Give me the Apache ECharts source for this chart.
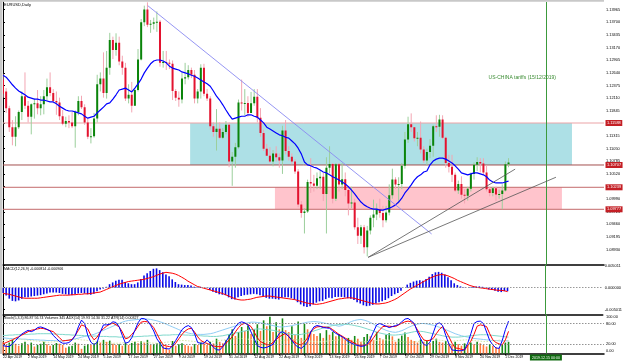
<!DOCTYPE html>
<html>
<head>
<meta charset="utf-8">
<script src="https://cdn.jsdelivr.net/npm/echarts@6/dist/echarts.min.js"></script>
<style>
  html, body { margin: 0; padding: 0; background: #fff; }
  #chart { width: 625px; height: 362px; }
</style>
</head>
<body>
<div id="chart"></div>
<script>
// EURUSD daily, 22 Apr 2019 .. 3 Dec 2019 (bar index 0..161)
const dateLabels = ['22 Apr 2019', '2 May 2019', '14 May 2019', '24 May 2019', '5 Jun 2019', '17 Jun 2019',
  '27 Jun 2019', '9 Jul 2019', '19 Jul 2019', '31 Jul 2019', '12 Aug 2019', '22 Aug 2019', '3 Sep 2019',
  '13 Sep 2019', '25 Sep 2019', '7 Oct 2019', '17 Oct 2019', '29 Oct 2019', '8 Nov 2019', '20 Nov 2019', '2 Dec 2019']
const labelStep = 8

const priceTicks = [1.13965, 1.13700, 1.13435, 1.13170, 1.12905, 1.12640, 1.12375, 1.12110, 1.11845, 1.11580,
  1.11315, 1.11050, 1.10785, 1.10520, 1.10255, 1.09990, 1.09725, 1.09460, 1.09195, 1.08930]
const macdTicks = [0.005011, 0, -0.005011]
const stochTicks = [100, 80, 20, 0]

const opens = [1.1250,1.1225,1.1190,1.1150,1.1130,1.1150,1.1182,1.1215,1.1195,1.1172,
  1.1198,1.1200,1.1190,1.1198,1.1215,1.1234,1.1222,1.1205,1.1202,1.1173,
  1.1157,1.1163,1.1160,1.1152,1.1182,1.1205,1.1192,1.1160,1.1130,1.1131,
  1.1168,1.1240,1.1252,1.1222,1.1275,1.1333,1.1312,1.1327,1.1288,1.1275,
  1.1210,1.1218,1.1195,1.1228,1.1292,1.1370,1.1397,1.1365,1.1367,1.1370,
  1.1371,1.1285,1.1287,1.1285,1.1283,1.1226,1.1212,1.1208,1.1252,1.1255,
  1.1270,1.1260,1.1210,1.1225,1.1275,1.1220,1.1210,1.1152,1.1140,1.1147,
  1.1128,1.1140,1.1155,1.1078,1.1088,1.1108,1.1202,1.1200,1.1201,1.1180,
  1.1200,1.1214,1.1170,1.1138,1.1105,1.1090,1.1078,1.1095,1.1087,1.1080,
  1.1143,1.1100,1.1088,1.1078,1.1057,1.0988,1.0970,1.0973,1.1035,1.1032,
  1.1027,1.1043,1.1046,1.1010,1.1065,1.1073,1.1000,1.1072,1.1030,1.1041,
  1.1018,1.0990,1.0992,1.0940,1.0922,1.0940,1.0898,1.0933,1.0960,1.0967,
  1.0978,1.0970,1.0955,1.0971,1.1007,1.1040,1.1030,1.1031,1.1069,1.1124,
  1.1156,1.1150,1.1127,1.1128,1.1103,1.1080,1.1098,1.1111,1.1152,1.1151,
  1.1166,1.1128,1.1075,1.1067,1.1050,1.1017,1.1031,1.1008,1.1006,1.1021,
  1.1052,1.1071,1.1077,1.1074,1.1055,1.1020,1.1012,1.1022,1.1009,1.1010,
  1.1017,1.1072]
const closes = [1.1220,1.1190,1.1150,1.1130,1.1150,1.1182,1.1215,1.1195,1.1172,1.1198,
  1.1200,1.1190,1.1198,1.1215,1.1234,1.1222,1.1205,1.1202,1.1173,1.1157,
  1.1163,1.1160,1.1152,1.1182,1.1205,1.1192,1.1160,1.1130,1.1131,1.1168,
  1.1240,1.1252,1.1222,1.1275,1.1333,1.1312,1.1327,1.1288,1.1275,1.1210,
  1.1218,1.1195,1.1228,1.1292,1.1370,1.1397,1.1365,1.1367,1.1370,1.1371,
  1.1285,1.1287,1.1285,1.1283,1.1226,1.1212,1.1208,1.1252,1.1255,1.1270,
  1.1260,1.1210,1.1225,1.1275,1.1220,1.1210,1.1152,1.1140,1.1147,1.1128,
  1.1140,1.1155,1.1078,1.1088,1.1108,1.1202,1.1200,1.1201,1.1180,1.1200,
  1.1214,1.1170,1.1138,1.1105,1.1090,1.1078,1.1095,1.1087,1.1080,1.1143,
  1.1100,1.1088,1.1078,1.1057,1.0988,1.0970,1.0973,1.1035,1.1032,1.1027,
  1.1043,1.1046,1.1010,1.1065,1.1073,1.1000,1.1072,1.1030,1.1041,1.1018,
  1.0990,1.0992,1.0940,1.0922,1.0940,1.0898,1.0933,1.0960,1.0967,1.0978,
  1.0970,1.0955,1.0971,1.1007,1.1040,1.1030,1.1031,1.1069,1.1124,1.1156,
  1.1150,1.1127,1.1128,1.1103,1.1080,1.1098,1.1111,1.1152,1.1151,1.1166,
  1.1128,1.1075,1.1067,1.1050,1.1017,1.1031,1.1008,1.1006,1.1021,1.1052,
  1.1071,1.1077,1.1074,1.1055,1.1020,1.1012,1.1022,1.1009,1.1010,1.1017,
  1.1072,1.1076]
const lows = [1.1212,1.1180,1.1140,1.1112,1.1110,1.1146,1.1165,1.1188,1.1160,1.1135,
  1.1168,1.1177,1.1175,1.1177,1.1205,1.1215,1.1200,1.1176,1.1165,1.1154,
  1.1150,1.1148,1.1148,1.1107,1.1175,1.1188,1.1155,1.1125,1.1116,1.1128,
  1.1160,1.1225,1.1212,1.1210,1.1260,1.1293,1.1300,1.1280,1.1260,1.1205,
  1.1200,1.1181,1.1195,1.1225,1.1290,1.1362,1.1360,1.1348,1.1355,1.1350,
  1.1277,1.1275,1.1270,1.1272,1.1207,1.1205,1.1193,1.1200,1.1240,1.1250,
  1.1253,1.1200,1.1200,1.1210,1.1215,1.1205,1.1145,1.1130,1.1101,1.1125,
  1.1125,1.1135,1.1066,1.1027,1.1065,1.1105,1.1185,1.1175,1.1172,1.1180,
  1.1195,1.1160,1.1130,1.1100,1.1090,1.1075,1.1068,1.1078,1.1065,1.1052,
  1.1093,1.1080,1.1072,1.1052,1.0982,1.0960,1.0927,1.0970,1.1012,1.1015,
  1.1020,1.1020,1.0995,1.0927,1.1053,1.0990,1.0995,1.1015,1.1020,1.1005,
  1.0965,1.0980,1.0935,1.0905,1.0905,1.0885,1.0879,1.0925,1.0940,1.0955,
  1.0960,1.0940,1.0950,1.0965,1.1000,1.1020,1.0990,1.1020,1.1063,1.1117,
  1.1140,1.1120,1.1110,1.1095,1.1075,1.1070,1.1085,1.1088,1.1140,1.1130,
  1.1125,1.1065,1.1055,1.1035,1.1014,1.1010,1.1000,1.0990,1.0996,1.1015,
  1.1040,1.1058,1.1055,1.1050,1.1015,1.1005,1.1005,1.0995,1.1000,1.0978,
  1.1015,1.1066]
const highs = [1.1262,1.1232,1.1195,1.1165,1.1173,1.1185,1.1225,1.1265,1.1205,1.1200,
  1.1210,1.1228,1.1215,1.1228,1.1252,1.1265,1.1230,1.1225,1.1212,1.1186,
  1.1172,1.1175,1.1182,1.1185,1.1215,1.1216,1.1198,1.1168,1.1148,1.1180,
  1.1260,1.1265,1.1307,1.1310,1.1348,1.1340,1.1347,1.1340,1.1300,1.1285,
  1.1240,1.1245,1.1230,1.1314,1.1377,1.1405,1.1412,1.1375,1.1380,1.1393,
  1.1375,1.1310,1.1310,1.1292,1.1290,1.1230,1.1225,1.1265,1.1285,1.1280,
  1.1275,1.1270,1.1230,1.1282,1.1283,1.1230,1.1215,1.1160,1.1188,1.1160,
  1.1148,1.1163,1.1160,1.1098,1.1117,1.1208,1.1250,1.1230,1.1215,1.1224,
  1.1230,1.1230,1.1190,1.1145,1.1115,1.1108,1.1102,1.1110,1.1095,1.1153,
  1.1165,1.1110,1.1095,1.1083,1.1062,1.0995,1.0980,1.1040,1.1085,1.1050,
  1.1055,1.1060,1.1055,1.1087,1.1110,1.1075,1.1075,1.1075,1.1075,1.1055,
  1.1025,1.1025,1.1000,1.0960,1.0945,1.0945,1.0943,1.0965,1.0998,1.0990,
  1.1000,1.0985,1.0985,1.1030,1.1063,1.1045,1.1045,1.1075,1.1140,1.1172,
  1.1179,1.1150,1.1140,1.1162,1.1110,1.1105,1.1125,1.1155,1.1175,1.1176,
  1.1175,1.1130,1.1092,1.1092,1.1055,1.1038,1.1047,1.1020,1.1025,1.1055,
  1.1076,1.1087,1.1085,1.1085,1.1070,1.1025,1.1025,1.1025,1.1019,1.1030,
  1.1078,1.1085]

// moving average (blue)
const movingAvg = [1.1259,1.1255,1.1247,1.1239,1.1232,1.1226,1.1222,1.1218,1.1213,1.1211,
  1.1209,1.1209,1.1207,1.1207,1.1205,1.1203,1.1203,1.1199,1.1194,1.1190,
  1.1186,1.1184,1.1184,1.1182,1.1180,1.1178,1.1173,1.1169,1.1171,1.1173,
  1.1180,1.1186,1.1192,1.1199,1.1201,1.1209,1.1218,1.1228,1.1230,1.1232,
  1.1228,1.1224,1.1232,1.1241,1.1251,1.1264,1.1274,1.1283,1.1289,1.1291,
  1.1291,1.1289,1.1285,1.1278,1.1274,1.1272,1.1270,1.1266,1.1264,1.1262,
  1.1259,1.1257,1.1253,1.1249,1.1245,1.1241,1.1236,1.1226,1.1215,1.1207,
  1.1197,1.1186,1.1176,1.1167,1.1169,1.1171,1.1173,1.1173,1.1176,1.1176,
  1.1173,1.1171,1.1165,1.1159,1.1150,1.1146,1.1142,1.1138,1.1134,1.1132,
  1.1129,1.1127,1.1121,1.1115,1.1106,1.1094,1.1077,1.1071,1.1069,1.1066,
  1.1064,1.1060,1.1056,1.1054,1.1050,1.1046,1.1043,1.1039,1.1035,1.1031,
  1.1025,1.1018,1.1010,1.1001,1.0993,1.0987,1.0983,1.0980,1.0978,1.0978,
  1.0976,1.0976,1.0978,1.0980,1.0983,1.0987,1.0993,1.1001,1.1012,1.1020,
  1.1029,1.1039,1.1046,1.1050,1.1056,1.1058,1.1071,1.1079,1.1083,1.1085,
  1.1085,1.1083,1.1079,1.1075,1.1069,1.1062,1.1054,1.1052,1.1050,1.1052,
  1.1054,1.1054,1.1052,1.1050,1.1046,1.1039,1.1035,1.1033,1.1033,1.1033,
  1.1035,1.1037]

// MACD(12,26,9), in units of 0.0001
const macdUnit = 0.0001
const macdMain = [-12,-18,-25,-30,-31,-29,-25,-22,-22,-20,-19,-18,-17,-15,-13,-11,-11,-11,-12,-14,
  -15,-16,-17,-15,-13,-12,-13,-15,-16,-14,-8,-4,-2,2,8,12,16,18,18,13,
  10,8,8,12,20,28,33,38,43,44,40,35,30,26,19,13,8,7,6,6,
  5,2,1,2,0,-1,-5,-9,-12,-15,-16,-17,-22,-26,-27,-22,-19,-17,-16,-15,
  -14,-15,-17,-20,-23,-25,-25,-26,-27,-23,-22,-22,-24,-27,-33,-38,-42,-44,-42,-38,
  -34,-31,-30,-26,-23,-24,-21,-21,-21,-22,-24,-25,-28,-33,-36,-40,-42,-41,-39,-36,
  -33,-31,-28,-24,-19,-15,-12,-7,0,7,11,14,16,17,16,20,25,31,35,36,
  34,30,24,17,10,6,3,1,0,1,2,3,3,2,-1,-4,-5,-7,-9,-10,
  -8,-8]
const macdSignal = [-13,-14,-15,-17,-19,-21,-23,-24,-24,-24,-24,-24,-23,-22,-21,-20,-19,-18,-17,-17,
  -17,-17,-16,-16,-15,-15,-14,-14,-13,-12,-11,-10,-7,-4,-1,2,5,8,10,12,
  14,15,16,17,18,19,21,23,25,28,31,33,35,34,33,31,28,24,20,15,
  11,7,3,1,-1,-3,-5,-7,-9,-11,-13,-16,-19,-22,-25,-27,-28,-28,-27,-26,
  -24,-22,-21,-20,-19,-19,-20,-21,-22,-23,-24,-25,-26,-27,-29,-31,-33,-35,-36,-37,
  -38,-37,-36,-34,-32,-30,-28,-26,-25,-24,-23,-23,-24,-26,-28,-30,-32,-34,-36,-37,
  -37,-36,-35,-33,-30,-27,-23,-18,-13,-8,-3,1,5,9,13,17,21,24,27,29,
  30,29,27,24,21,17,14,11,8,5,3,1,0,-1,-2,-3,-4,-5,-6,-6,
  -7,-9]

// Stochastic(5,3,3)
const stochK = [15,13,12,20,30,40,49,55,60,56,60,68,70,67,63,58,45,36,27,22,
  22,24,32,44,70,90,80,45,25,17,25,55,76,76,78,85,83,70,45,22,
  25,38,60,82,95,94,89,75,58,35,22,8,6,5,15,30,46,62,70,74,
  68,50,24,22,22,32,22,10,3,2,12,27,42,56,70,81,85,82,76,55,
  35,15,10,8,10,14,19,35,51,56,50,42,30,18,10,7,15,27,55,70,
  74,72,68,67,66,58,51,46,41,34,27,22,18,15,13,14,20,35,56,76,
  80,76,72,68,71,74,77,85,93,95,88,80,55,35,18,16,25,52,78,82,
  74,45,20,2,1,0,0,3,22,50,80,86,87,80,55,30,17,8,7,30,
  62,87]
const stochD = [20,24,28,32,37,41,46,51,56,60,62,64,66,65,62,59,56,47,38,29,
  30,31,33,45,60,76,72,64,45,32,40,56,65,72,78,81,76,70,55,35,
  38,48,58,72,84,86,85,78,68,50,32,17,14,12,12,22,35,48,58,64,
  66,55,41,30,25,21,18,14,12,12,12,22,31,41,55,68,77,81,77,71,
  55,38,27,22,18,17,25,33,41,46,51,42,32,25,19,17,25,38,55,65,
  70,71,70,69,68,62,55,48,43,37,32,27,22,17,16,17,17,25,38,51,
  62,71,72,72,71,71,76,81,85,87,85,77,61,45,32,29,31,36,50,63,
  71,58,41,22,8,7,4,2,15,28,48,72,76,74,71,50,32,24,20,17,
  32,57]

// tick volumes
const volumes = [30,22,28,35,25,20,26,30,22,28,18,22,25,30,24,20,22,27,25,22,
  15,18,20,28,25,12,20,24,22,26,32,28,35,30,33,25,22,24,20,28,
  22,27,30,26,32,28,35,22,24,26,30,22,18,10,32,20,24,26,22,20,
  18,24,22,28,26,22,30,26,38,30,26,34,50,62,45,55,68,58,72,50,
  62,75,58,85,70,94,55,80,62,90,60,55,70,48,82,40,76,62,58,50,
  45,52,40,60,48,55,44,50,42,36,40,35,45,38,30,42,50,44,35,55,
  40,36,48,52,44,30,38,46,54,42,35,32,28,36,30,34,26,32,38,30,
  28,32,26,22,30,24,20,26,22,28,24,30,26,22,18,24,20,16,14,22,
  28,30]

// ADX(14): main line and the two directional lines
const adxMain = [38,37,36,36,35,35,34,34,33,33,32,32,31,31,30,30,30,29,29,29,
  30,31,33,35,37,40,42,44,46,48,52,56,60,64,68,72,76,80,84,87,
  89,90,91,92,93,94,93,92,90,88,85,82,78,74,70,66,62,58,55,52,
  50,49,48,48,48,49,50,52,55,58,61,64,67,70,73,76,78,80,82,84,
  84,83,82,80,78,76,74,72,70,70,71,72,74,76,78,80,82,84,85,86,
  85,84,82,80,78,76,74,72,74,78,82,86,89,91,92,90,87,83,78,73,
  68,64,60,57,55,54,56,59,63,68,72,76,78,80,80,79,77,75,72,69,
  66,62,58,54,50,47,44,42,40,38,36,35,34,33,32,31,30,30,29,29,
  29,29]
const adxPlus = [45,45,46,46,47,47,48,48,48,49,49,50,50,50,50,50,49,49,48,48,
  47,47,46,46,45,45,44,44,43,43,43,42,42,42,41,41,41,40,40,40,
  40,41,41,42,42,43,43,44,44,45,45,46,46,46,47,47,47,47,46,46,
  45,45,44,44,43,43,42,42,42,43,44,46,48,50,52,54,56,58,60,62,
  63,64,64,63,62,61,60,58,56,54,52,50,48,47,47,48,50,52,55,58,
  61,64,67,70,72,74,76,77,78,78,77,76,74,72,70,67,64,61,58,55,
  52,50,48,47,46,46,47,48,50,52,54,56,57,57,56,54,52,50,48,46,
  44,42,41,40,40,40,41,42,43,44,45,46,47,47,47,46,45,44,43,42,
  41,40]
const adxMinus = [30,31,32,33,34,34,33,32,31,30,29,28,27,26,25,25,26,27,28,29,
  30,31,32,33,33,32,31,30,29,28,27,26,25,24,23,22,22,22,23,24,
  25,26,27,27,26,25,24,23,22,22,23,24,25,26,27,28,29,30,30,29,
  28,27,26,25,25,26,27,28,29,30,31,32,33,34,35,36,36,35,34,33,
  32,31,30,29,28,27,27,28,29,30,31,32,33,33,32,31,30,29,28,27,
  26,26,27,28,29,30,31,32,32,31,30,29,28,27,26,26,27,28,29,30,
  31,32,32,31,30,29,28,27,26,25,25,26,27,28,29,30,31,32,32,31,
  30,29,28,28,29,30,31,32,32,31,30,29,28,27,27,28,29,30,31,31,
  30,29]

// drawn objects: horizontal levels, zones, trend lines, event line
const levelPrices = [1.11588, 1.10707, 1.10239, 1.09777]
const cyanZone = [[59.6, 1.11588], [181.2, 1.10707]]
const pinkZone = [[86.6, 1.10239], [178.0, 1.09777]]
const trendDown = [[46.1, 1.1405], [136.5, 1.0926]]
const trendUpA = [[116.3, 1.0877], [163.1, 1.1062]]
const trendUpB = [[116.3, 1.0877], [176.1, 1.1045]]
const eventBar = 172.9
const eventLabel = '2019.12.15 00:00'
const eventText = 'US-CHINA tariffs (15/12/2019)'

const levelColors = ['#eba3a6', '#a4504f', '#c46a6b', '#c46a6b']
const FONT = 'Liberation Sans, Arial, sans-serif'
const xMax = 191.4

const candleData = closes.map((c, i) => [i, opens[i], c, lows[i], highs[i]])
const idx = (arr, scale) => arr.map((v, i) => [i, scale ? v * scale : v])

function renderCandle(params, api) {
  const i = api.value(0)
  const o = api.value(1)
  const c = api.value(2)
  const pO = api.coord([i, o])
  const pC = api.coord([i, c])
  const pL = api.coord([i, api.value(3)])
  const pH = api.coord([i, api.value(4)])
  const x = pO[0]
  const up = c > o
  const flat = Math.abs(c - o) < 0.00006
  const top = Math.min(pO[1], pC[1])
  const h = Math.max(Math.abs(pO[1] - pC[1]), 1)
  return {
    type: 'group',
    children: [
      { type: 'line', shape: { x1: x, y1: pH[1], x2: x, y2: pL[1] },
        style: { stroke: up ? '#9ccf9c' : '#f3a6b3', lineWidth: 1 } },
      { type: 'rect', shape: { x: x - 1, y: top, width: 2, height: h },
        style: { fill: flat ? '#222' : (up ? '#0a840a' : '#e3132f') } },
    ],
  }
}

function xAxisFor(gridIndex, showLabels) {
  return {
    type: 'value', gridIndex, min: 0, max: xMax,
    splitLine: { show: false },
    axisLine: { show: true, onZero: false, lineStyle: { color: '#000', width: 1.5 } },
    axisTick: { show: showLabels, length: 2, lineStyle: { color: '#000' },
      customValues: dateLabels.map((d, k) => k * labelStep) },
    axisLabel: {
      show: showLabels, fontSize: 3.5, fontFamily: FONT, color: '#000', align: 'left', margin: 1.5,
      customValues: dateLabels.map((d, k) => k * labelStep),
      formatter: (v) => dateLabels[Math.round(v / labelStep)] || '',
    },
  }
}

function yAxisFor(gridIndex, min, max, ticks, digits) {
  return {
    type: 'value', gridIndex, position: 'right', min, max,
    splitLine: { show: false },
    axisLine: { show: true, lineStyle: { color: '#000', width: 1 } },
    axisTick: { show: true, length: 2, customValues: ticks, lineStyle: { color: '#000' } },
    axisLabel: { fontSize: 3.9, fontFamily: FONT, color: '#000', margin: 2,
      customValues: ticks, formatter: (v) => v.toFixed(digits) },
  }
}

const eventLine = (withLabel) => ({
  silent: true, symbol: ['none', 'none'],
  lineStyle: { color: '#3c9a3c', width: 1, type: 'solid' },
  label: withLabel
    ? { show: true, position: 'start', formatter: eventLabel, fontSize: 3.6, fontFamily: FONT,
        color: '#fff', backgroundColor: '#0f6a0f', padding: [1, 2], distance: 1 }
    : { show: false },
  data: [{ xAxis: eventBar }],
})

// one flat line series per drawn horizontal level, price tag at its right end
const levelSeries = levelPrices.map((v, k) => ({
  name: 'level' + k, type: 'line', xAxisIndex: 0, yAxisIndex: 0, z: 2, symbol: 'none', silent: true,
  data: [[0, v], [xMax, v]],
  lineStyle: { color: levelColors[k], width: 1 },
  endLabel: { show: true, formatter: v.toFixed(5), fontSize: 3.9, fontFamily: FONT,
    color: '#fff', backgroundColor: '#c41f25', padding: [1, 1.5], distance: 1.5 },
}))

const chart = echarts.init(document.getElementById('chart'), null, { renderer: 'canvas' })

chart.setOption({
  animation: false,
  backgroundColor: '#fff',
  grid: [
    { left: 3, right: 21, top: 2, height: 262.5 },
    { left: 3, right: 21, top: 264.5, height: 50 },
    { left: 3, right: 21, top: 314.5, height: 39 },
  ],
  xAxis: [xAxisFor(0, false), xAxisFor(1, false), xAxisFor(2, true)],
  yAxis: [
    yAxisFor(0, 1.08619, 1.14127, priceTicks, 5),
    yAxisFor(1, -0.0061, 0.00528, macdTicks, 6),
    yAxisFor(2, -8.2, 106.5, stochTicks, 2),
    { type: 'value', gridIndex: 2, min: 0, max: 100, show: false },
  ],
  series: [
    ...levelSeries,
    {
      name: 'MA', type: 'line', xAxisIndex: 0, yAxisIndex: 0, z: 4, symbol: 'none',
      data: idx(movingAvg), lineStyle: { color: '#0000ff', width: 1.2 },
      markArea: {
        silent: true, z: 1,
        data: [
          [{ coord: cyanZone[0], itemStyle: { color: '#ade0e6' } }, { coord: cyanZone[1] }],
          [{ coord: pinkZone[0], itemStyle: { color: '#ffc4cc' } }, { coord: pinkZone[1] }],
        ],
      },
    },
    {
      name: 'EURUSD', type: 'custom', xAxisIndex: 0, yAxisIndex: 0, z: 3, clip: true,
      renderItem: renderCandle, data: candleData, encode: { x: 0, y: [1, 2, 3, 4] },
    },
    {
      name: 'trendDown', type: 'line', xAxisIndex: 0, yAxisIndex: 0, z: 5, symbol: 'none',
      data: trendDown, lineStyle: { color: '#8a8af2', width: 0.9 },
      markLine: eventLine(false),
    },
    {
      name: 'trendUpA', type: 'line', xAxisIndex: 0, yAxisIndex: 0, z: 5, symbol: 'none',
      data: trendUpA, lineStyle: { color: '#555', width: 0.8 },
    },
    {
      name: 'trendUpB', type: 'line', xAxisIndex: 0, yAxisIndex: 0, z: 5, symbol: 'none',
      data: trendUpB, lineStyle: { color: '#555', width: 0.8 },
    },
    {
      name: 'MACD', type: 'bar', xAxisIndex: 1, yAxisIndex: 1, barWidth: 1.6, z: 2,
      data: idx(macdMain, macdUnit), itemStyle: { color: '#0a0ae6' },
      markLine: {
        silent: true, symbol: ['none', 'none'], label: { show: false },
        lineStyle: { color: '#999', width: 1, type: [1.5, 1.5] },
        data: [{ yAxis: 0 }],
      },
    },
    {
      name: 'Signal', type: 'line', xAxisIndex: 1, yAxisIndex: 1, z: 3, symbol: 'none',
      data: idx(macdSignal, macdUnit), lineStyle: { color: '#ff0000', width: 1 },
      markLine: eventLine(false),
    },
    {
      name: 'Volumes', type: 'bar', xAxisIndex: 2, yAxisIndex: 3, barWidth: 1.6, z: 1,
      data: volumes.map((v, i) => ({
        value: [i, v],
        itemStyle: { color: i > 0 && v > volumes[i - 1] ? '#168a16' : '#ff7a3d' },
      })),
    },
    {
      name: 'ADX', type: 'line', xAxisIndex: 2, yAxisIndex: 2, z: 2, symbol: 'none',
      data: idx(adxMain), lineStyle: { color: '#8fcdf5', width: 1 },
    },
    {
      name: '+DI', type: 'line', xAxisIndex: 2, yAxisIndex: 2, z: 2, symbol: 'none',
      data: idx(adxPlus), lineStyle: { color: '#7fd8cc', width: 1 },
    },
    {
      name: '-DI', type: 'line', xAxisIndex: 2, yAxisIndex: 2, z: 2, symbol: 'none',
      data: idx(adxMinus), lineStyle: { color: '#d6e6a6', width: 1, type: [1.5, 1.5] },
    },
    {
      name: '%D', type: 'line', xAxisIndex: 2, yAxisIndex: 2, z: 3, symbol: 'none',
      data: idx(stochD), lineStyle: { color: '#ff0000', width: 1 },
      markLine: {
        silent: true, symbol: ['none', 'none'], label: { show: false },
        lineStyle: { color: '#777', width: 0.8, type: [1.5, 1.5] },
        data: [{ yAxis: 80 }, { yAxis: 20 }],
      },
    },
    {
      name: '%K', type: 'line', xAxisIndex: 2, yAxisIndex: 2, z: 4, symbol: 'none',
      data: idx(stochK), lineStyle: { color: '#0000ff', width: 1 },
      markLine: eventLine(true),
    },
  ],
  graphic: [
    { type: 'rect', left: 0, top: 0, shape: { width: 604, height: 1.8 }, style: { fill: '#c8c8c8' }, z: 100 },
    { type: 'rect', left: 0, top: 0, shape: { width: 2.4, height: 354 }, style: { fill: '#c8c8c8' }, z: 100 },
    { type: 'text', left: 4, top: 2.5, z: 100,
      style: { text: 'EURUSD,Daily', font: '4px ' + FONT, fill: '#000' } },
    { type: 'text', left: 4, top: 266.5, z: 100,
      style: { text: 'MACD(12,26,9) -0.000814 -0.000906', font: '3.6px ' + FONT, fill: '#000' } },
    { type: 'text', left: 4, top: 316, z: 100,
      style: { text: 'Stoch(5,3,3) 86.87 56.74 Volumes 345 ADX(14) 19.93 14.30 31.22 ATR(14) 0.00327',
        font: '3.6px ' + FONT, fill: '#000' } },
    { type: 'text', z: 100,
      style: { text: eventText, x: 556, y: 78, align: 'right', verticalAlign: 'middle',
        font: '5px ' + FONT, fill: '#3a8c32' } },
  ],
})
</script>
</body>
</html>
